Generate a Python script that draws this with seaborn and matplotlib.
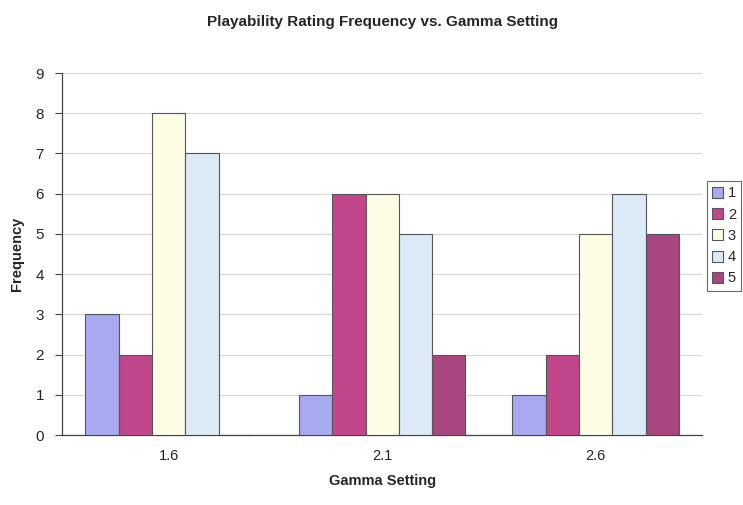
import pandas as pd
import numpy as np
import matplotlib
matplotlib.use("Agg")
import matplotlib.pyplot as plt
import seaborn as sns

# values
gamma = ["1.6", "2.1", "2.6"]
ratings = ["1", "2", "3", "4", "5"]
freq_1 = [3, 1, 1]
freq_2 = [2, 6, 2]
freq_3 = [8, 6, 5]
freq_4 = [7, 5, 6]
freq_5 = [0, 2, 5]

colors = ["#a9a9f2", "#c2468a", "#fdfde6", "#dbeaf6", "#a8477f"]

rows = []
for r, vals in zip(ratings, [freq_1, freq_2, freq_3, freq_4, freq_5]):
    for g, v in zip(gamma, vals):
        rows.append({"Gamma Setting": g, "Rating": r, "Frequency": v})
df = pd.DataFrame(rows)

sns.set_style("white")
plt.rcParams['font.family'] = ['Liberation Sans', 'DejaVu Sans']

fig = plt.figure(figsize=(7.43, 5.05), dpi=100)
ax = fig.add_axes([0.0834, 0.1386, 0.862, 0.7168])

sns.barplot(data=df, x="Gamma Setting", y="Frequency", hue="Rating",
            palette=colors, saturation=1, width=0.78, gap=0,
            edgecolor="#555555", linewidth=0.8, ax=ax, zorder=3)

ax.set_ylim(0, 9)
ax.set_yticks(range(0, 10))
ax.set_xlim(-0.5, 2.5)
ax.yaxis.grid(True, color="#d8d8d8", linewidth=0.8, zorder=0)
ax.set_axisbelow(True)

for s in ["top", "right"]:
    ax.spines[s].set_visible(False)
for s in ["left", "bottom"]:
    ax.spines[s].set_color("#444444")
    ax.spines[s].set_linewidth(0.9)

ax.tick_params(axis="y", direction="out", length=5, color="#444444",
               labelsize=11, left=True, pad=8)
ax.tick_params(axis="x", length=0, labelsize=10.5, pad=10)
ax.set_xticks([0.5, 1.5], minor=True)
ax.tick_params(axis="x", which="minor", direction="out", length=4, color="#444444")

ax.set_xlabel("Gamma Setting", fontsize=10.5, fontweight="bold", labelpad=8)
ax.set_ylabel("Frequency", fontsize=10.5, fontweight="bold", labelpad=8)
ax.set_title("Playability Rating Frequency vs. Gamma Setting",
             fontsize=11, fontweight="bold", pad=34)

leg = ax.legend(loc="center left", bbox_to_anchor=(1.002, 0.55),
                frameon=True, fontsize=10.5, handlelength=0.8, handleheight=0.8,
                handletextpad=0.3, labelspacing=0.5, borderpad=0.35,
                borderaxespad=0.2, fancybox=False, title=None)
leg.get_frame().set_edgecolor("#444444")
leg.get_frame().set_linewidth(0.8)
for h in leg.legend_handles:
    h.set_edgecolor("#555555")
    h.set_linewidth(0.8)

fig.savefig("out.png", dpi=100)
